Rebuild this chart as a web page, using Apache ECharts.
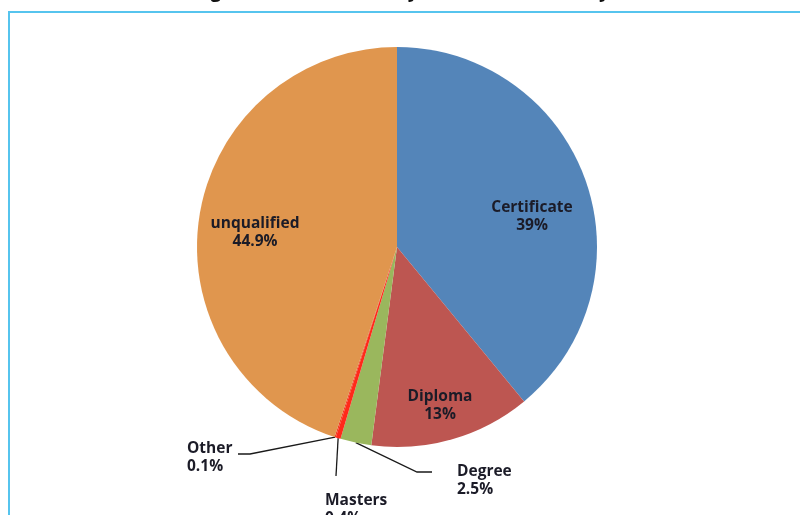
<!DOCTYPE html>
<html>
<head>
<meta charset="utf-8">
<script src="https://cdn.jsdelivr.net/npm/echarts@6/dist/echarts.min.js"></script>
<style>
  html, body { margin: 0; padding: 0; background: #ffffff; }
  #chart { width: 800px; height: 515px; }
</style>
</head>
<body>
<div id="chart"></div>
<script>
// Highest qualification held, share of total (%)
const categories = ['Certificate', 'Diploma', 'Degree', 'Masters', 'Other', 'unqualified'];
const values = [39, 13, 2.5, 0.4, 0.1, 44.9];
const sliceColors = ['#5485b9', '#bd5651', '#9ab75d', '#ff2a1a', '#f23a1e', '#e0964e'];

// Small slices get their labels outside with leader lines
const outsideLabels = ['Degree', 'Masters', 'Other'];

// Label anchor points and leader-line bends (screen px)
const labelSpots = {
  Certificate: { x: 532, y: 217, align: 'center' },
  Diploma:     { x: 440, y: 406, align: 'center' },
  unqualified: { x: 255, y: 233, align: 'center' },
  Other:       { x: 187, y: 458, align: 'left', bends: [[250, 454], [238, 454]] },
  Masters:     { x: 325, y: 510, align: 'left', bends: [[336, 476]] },
  Degree:      { x: 457, y: 481, align: 'left', bends: [[417, 472], [432, 472]] }
};

const labelFont = '"Open Sans", Lato, "DejaVu Sans", sans-serif';

const chart = echarts.init(document.getElementById('chart'), null, { renderer: 'canvas' });

const data = categories.map((name, i) => {
  const outside = outsideLabels.includes(name);
  return {
    name: name,
    value: values[i],
    itemStyle: { color: sliceColors[i] },
    label: { position: outside ? 'outside' : 'inside' },
    labelLine: { show: outside }
  };
});

chart.setOption({
  backgroundColor: '#ffffff',
  animation: false,
  graphic: [
    {
      type: 'rect',
      z: 0,
      silent: true,
      shape: { x: 9, y: 12, width: 900, height: 600 },
      style: { fill: 'none', stroke: '#56c4ee', lineWidth: 2 }
    },
    {
      type: 'text',
      z: 1,
      silent: true,
      x: 400,
      y: 1,
      style: {
        text: 'Highest Qualification by Sector and Industry',
        font: 'bold 19px "Open Sans", Lato, sans-serif',
        fill: '#111111',
        align: 'center',
        verticalAlign: 'bottom'
      }
    }
  ],
  series: [
    {
      type: 'pie',
      center: [397, 247],
      radius: 200,
      startAngle: 90,
      clockwise: true,
      avoidLabelOverlap: false,
      itemStyle: { borderWidth: 0 },
      emphasis: { disabled: true },
      label: {
        show: true,
        formatter: p => p.name + '\n' + p.value + '%',
        fontFamily: labelFont,
        fontWeight: 'bold',
        fontSize: 15.5,
        lineHeight: 18,
        color: '#1b1b27'
      },
      labelLine: {
        show: false,
        lineStyle: { color: '#1a1a1a', width: 1.3 }
      },
      labelLayout: function (params) {
        const name = categories[params.dataIndex];
        const spot = labelSpots[name];
        const out = {
          x: spot.x,
          y: spot.y,
          align: spot.align,
          verticalAlign: 'middle'
        };
        if (spot.bends && params.labelLinePoints && params.labelLinePoints.length) {
          out.labelLinePoints = [params.labelLinePoints[0]].concat(spot.bends);
        }
        return out;
      },
      data: data
    }
  ]
});
</script>
</body>
</html>
